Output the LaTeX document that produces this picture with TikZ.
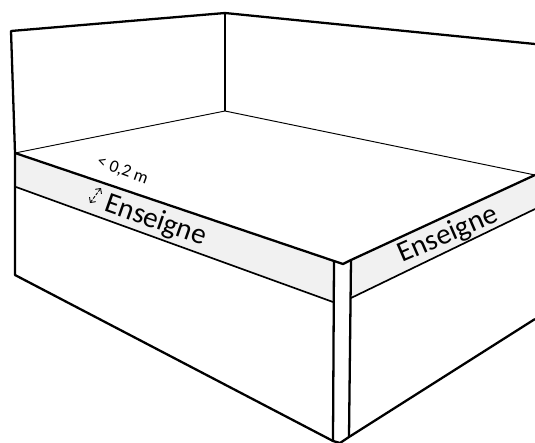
\documentclass[tikz,border=0pt]{standalone}
\usepackage{fontspec}
\setmainfont{Carlito}
\usetikzlibrary{arrows.meta}
\definecolor{band}{RGB}{241, 241, 241}
\tikzset{
  heavy/.style={black, line width=1.3pt, line join=round},
  medium/.style={black, line width=0.95pt, line join=round},
  light/.style={black, line width=0.55pt},
  signtext/.style={inner sep=0, font=\fontsize{16.6}{18}\selectfont},
  gaugetext/.style={inner sep=0, font=\fontsize{10}{12}\selectfont}
}

\begin{document}
\begin{tikzpicture}[x=0.02cm, y=-0.02cm]
  \useasboundingbox (0, 0) rectangle (535, 443);

  % bands
  \fill[band] (15, 153) -- (334, 261) -- (333, 302) -- (16, 187) -- cycle;
  \fill[band] (351, 260) -- (535, 175) -- (535, 209) -- (351, 298) -- cycle;

  % walls at the back
  \draw[heavy] (15, 153) -- (11, 31) -- (225, 13) -- (535, 44);
  \draw[heavy] (225, 13) -- (225, 111);
  \draw[light] (15, 153) -- (225, 111) -- (535, 175);

  % front faces
  \draw[heavy] (15, 153) -- (334, 261) -- (343, 264) -- (351, 260) -- (535, 175);
  \draw[medium] (16, 187) -- (333, 302);
  \draw[medium] (351, 298) -- (535, 209);
  \draw[heavy] (15, 153) -- (15, 275) -- (333, 441) -- (340, 443) -- (349, 437) -- (535, 319);
  \draw[heavy] (334, 261) -- (333, 441);
  \draw[heavy] (351, 260) -- (349, 437);

  % labels
  \node[signtext, rotate=-19.5] (signleft) at (155.5, 221) {Enseigne};
  \node[signtext, rotate=23.5] (signright) at (448, 235) {Enseigne};
  \node[gaugetext, rotate=-20] (gaugelabel) at (122.5, 170.5) {< 0,2 m};

  % gauge
  \coordinate (gaugelow) at (90, 203);
  \coordinate (gaugehigh) at (101, 188);
  \draw[black, line width=0.5pt, dash pattern=on 1.7pt off 0.8pt, {Straight Barb[length=2.2pt]}-{Straight Barb[length=2.2pt]}] (gaugelow) -- (gaugehigh);
\end{tikzpicture}
\end{document}
